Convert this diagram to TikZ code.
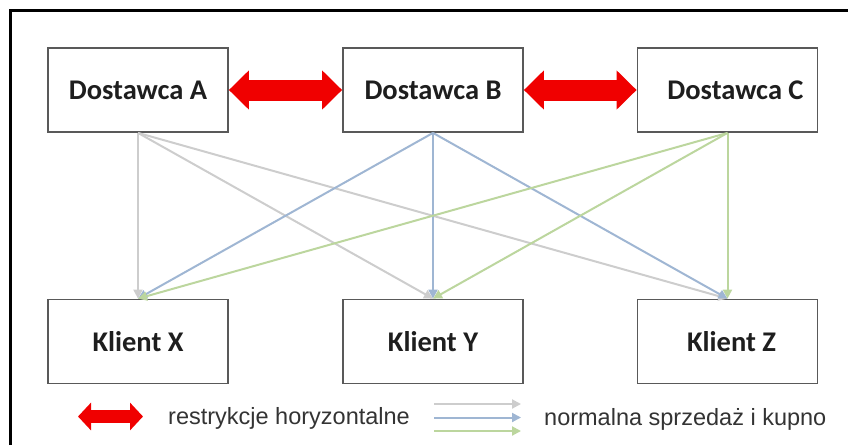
\documentclass[tikz,border=0pt]{standalone}
\usepackage{fontspec}
\setmainfont{Carlito}
\newfontfamily\legendfont{Liberation Sans}
\usetikzlibrary{arrows.meta}
\definecolor{frameline}{HTML}{000000}
\definecolor{boxline}{HTML}{595959}
\definecolor{boxtext}{HTML}{1E1E1E}
\definecolor{legendtext}{HTML}{333333}
\definecolor{restr}{HTML}{F00000}
\definecolor{grayflow}{HTML}{CDCDCD}
\definecolor{blueflow}{HTML}{9FB6D3}
\definecolor{greenflow}{HTML}{BCD69E}
\tikzset{
  box/.style={draw=boxline, line width=1.8pt, minimum width=180pt, minimum height=84pt,
    text=boxtext, font=\fontsize{28.5}{31}\selectfont\bfseries},
  restrarrow/.style={draw=restr, line width=21pt,
    {Triangle[length=20pt,width=38pt]}-{Triangle[length=20pt,width=38pt]}},
  smallrestr/.style={draw=restr, line width=13pt,
    {Triangle[length=13pt,width=27pt]}-{Triangle[length=13pt,width=27pt]}},
  flow/.style={line width=2pt, -{Triangle[length=9pt,width=9pt]}},
  gflow/.style={flow, draw=grayflow},
  bflow/.style={flow, draw=blueflow},
  vflow/.style={flow, draw=greenflow},
  legend/.style={text=legendtext, anchor=west, inner sep=0pt, font=\legendfont\fontsize{23.5}{26}\selectfont}
}
\begin{document}
\begin{tikzpicture}[x=1pt, y=-1pt]
  \useasboundingbox (0,0) rectangle (848,445);
  \draw[frameline, line width=3.5pt] (10.5,445) -- (10.5,10.5) -- (848,10.5);

  % dostawcy
  \node[box] (dA) at (138,90) {Dostawca A};
  \node[box] (dB) at (433,90) {Dostawca B};
  \node[box] (dC) at (727.5,90) {\hspace{16pt}Dostawca C};
  % klienci
  \node[box] (kX) at (138,341.5) {\raisebox{-5pt}{Klient X}};
  \node[box] (kY) at (433,341.5) {\raisebox{-5pt}{Klient Y}};
  \node[box] (kZ) at (727.5,341.5) {\raisebox{-5pt}{\hspace{8pt}Klient Z}};

  % sprzedaz i kupno
  \foreach \k in {kX,kY,kZ} {
    \draw[gflow] (dA.south) -- (\k.north);
  }
  \foreach \k in {kX,kY,kZ} {
    \draw[bflow] (dB.south) -- (\k.north);
  }
  \foreach \k in {kX,kY,kZ} {
    \draw[vflow] (dC.south) -- (\k.north);
  }

  % restrykcje
  \draw[restrarrow] (dA.east) -- (dB.west);
  \draw[restrarrow] (dB.east) -- (dC.west);

  % legenda
  \coordinate (r1) at (78,416.5);
  \coordinate (r2) at (143,416.5);
  \draw[smallrestr] (r1) -- (r2);
  \node[legend] (lr) at (168,418) {restrykcje horyzontalne};

  \coordinate (g1) at (434,404);  \coordinate (g2) at (521,404);
  \coordinate (b1) at (434,417.5);\coordinate (b2) at (521,417.5);
  \coordinate (v1) at (434,431);  \coordinate (v2) at (521,431);
  \draw[gflow] (g1) -- (g2);
  \draw[bflow] (b1) -- (b2);
  \draw[vflow] (v1) -- (v2);
  \node[legend] (ln) at (544,419) {normalna sprzedaż i kupno};
\end{tikzpicture}
\end{document}
